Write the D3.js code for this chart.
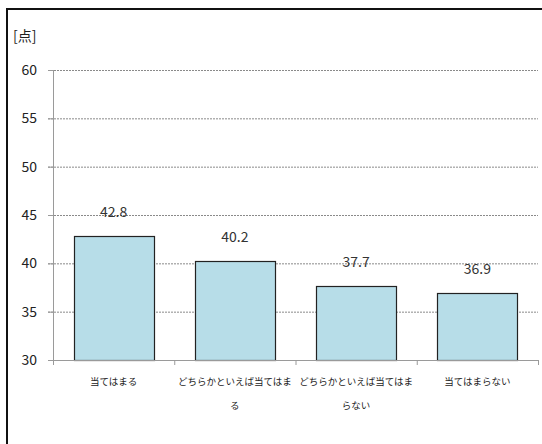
<!DOCTYPE html>
<html><head><meta charset="utf-8">
<script src="https://cdn.jsdelivr.net/npm/d3@7"></script>
<style>body{margin:0;background:#fff}svg{display:block}</style>
</head><body>
<script>
const categories = [["当てはまる"],["どちらかといえば当てはま","る"],["どちらかといえば当てはま","らない"],["当てはまらない"]];
const values = [42.8, 40.2, 37.7, 36.9];
const yTicks = [30,35,40,45,50,55,60];
const unitLabel = "[点]";

const W=542,H=444;
const svg=d3.select("body").append("svg").attr("width",W).attr("height",H);
const font="'Noto Sans CJK JP','Noto Sans',sans-serif";
// frame
svg.append("path").attr("d","M7,444V9H542").attr("fill","none").attr("stroke","#111").attr("stroke-width",2);

const x=d3.scaleBand().domain(d3.range(categories.length)).range([53,538]).paddingInner(0.34).paddingOuter(0.17);
const y=d3.scaleLinear().domain([30,60]).range([360,70]);

// grid
svg.append("g").selectAll("line").data(yTicks.filter(d=>d>30)).join("line")
 .attr("x1",48).attr("x2",538).attr("y1",d=>y(d)+0.5).attr("y2",d=>y(d)+0.5)
 .attr("stroke","#8a8a8a").attr("stroke-dasharray","2,1");
// y ticks
svg.append("g").selectAll("line").data(yTicks).join("line")
 .attr("x1",48).attr("x2",53).attr("y1",d=>y(d)+0.5).attr("y2",d=>y(d)+0.5).attr("stroke","#9a9a9a");
svg.append("g").selectAll("text").data(yTicks).join("text")
 .attr("x",37).attr("y",d=>y(d)+5).attr("text-anchor","end").attr("font-family",font).attr("font-size",14).attr("fill","#222").text(d=>d);
svg.append("text").attr("x",13).attr("y",41).attr("font-family",font).attr("font-size",14).attr("fill","#222").text(unitLabel);

// bars
svg.append("g").selectAll("rect").data(values).join("rect")
 .attr("x",(d,i)=>Math.round(x(i))+0.5).attr("width",Math.round(x.bandwidth()))
 .attr("y",d=>Math.round(y(d))+0.5).attr("height",d=>Math.round(360-y(d)))
 .attr("fill","#b7dde8").attr("stroke","#222").attr("stroke-width",1.2);
svg.append("g").selectAll("text").data(values).join("text")
 .attr("x",(d,i)=>x(i)+x.bandwidth()/2).attr("y",d=>y(d)-19).attr("text-anchor","middle")
 .attr("font-family",font).attr("font-size",14).attr("fill","#333").text(d=>d.toFixed(1));

// axes lines
svg.append("line").attr("x1",53.5).attr("x2",53.5).attr("y1",70).attr("y2",365).attr("stroke","#9a9a9a");
svg.append("line").attr("x1",48).attr("x2",538).attr("y1",360.5).attr("y2",360.5).attr("stroke","#9a9a9a");
const step=x.step();
svg.append("g").selectAll("line").data(d3.range(categories.length+1)).join("line")
 .attr("x1",(d)=>53.5+d*step).attr("x2",(d)=>53.5+d*step).attr("y1",360).attr("y2",365).attr("stroke","#9a9a9a");

// category labels
categories.forEach((lines,i)=>{
  lines.forEach((t,j)=>{
    svg.append("text").attr("x",x(i)+x.bandwidth()/2).attr("y",385+j*24).attr("text-anchor","middle")
     .attr("font-family",font).attr("font-size",9.5).attr("fill","#222").text(t);
  });
});
</script>
</body></html>
